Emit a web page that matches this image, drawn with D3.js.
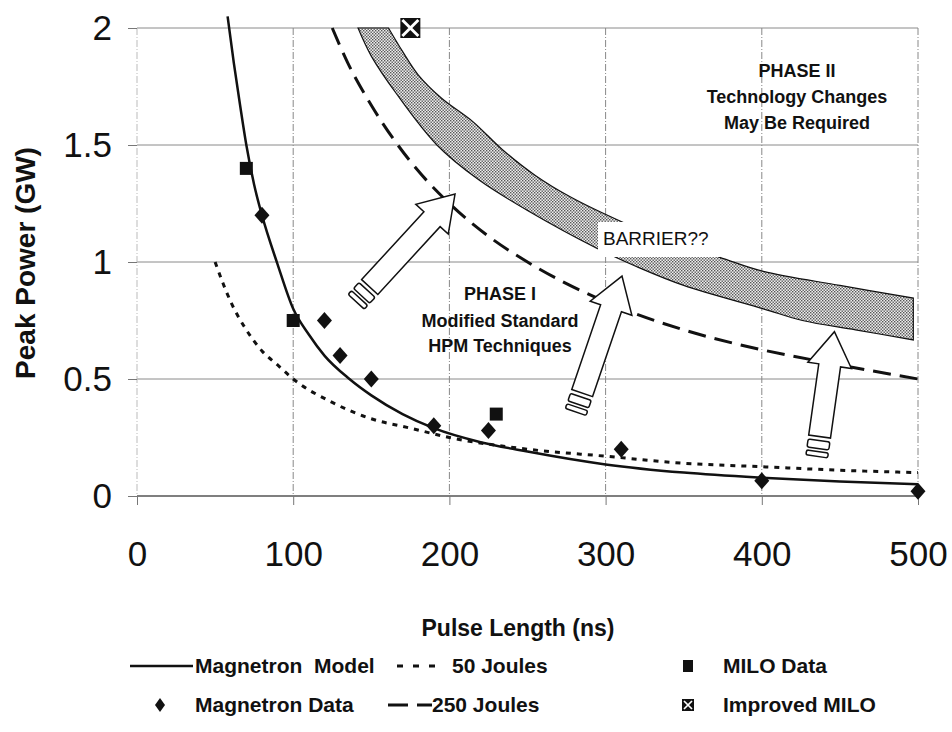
<!DOCTYPE html>
<html>
<head>
<meta charset="utf-8">
<script src="https://cdn.jsdelivr.net/npm/d3@7"></script>
<style>
  body { margin: 0; background: #fff; }
  svg text { font-family: "Liberation Sans", Arial, sans-serif; fill: #111; }
</style>
</head>
<body>
<svg width="952" height="732"></svg>
<script>
// The svg
var svg = d3.select("svg");

// Data (pulse length ns, peak power GW)
var xTicks = [0, 100, 200, 300, 400, 500];
var yTicks = [0, 0.5, 1, 1.5, 2];

var magnetronModel = [[58, 2.05], [62, 1.85], [66, 1.67], [70, 1.5], [75, 1.33], [80, 1.2], [90, 0.99],
  [100, 0.8], [110, 0.69], [120, 0.6], [136, 0.5], [150, 0.43], [170, 0.35], [190, 0.29], [220, 0.23],
  [250, 0.19], [300, 0.135], [350, 0.1], [400, 0.078], [450, 0.062], [500, 0.05]];
var joules50 = [[50, 1.0], [55, 0.91], [60, 0.83], [70, 0.71], [80, 0.62], [90, 0.56], [100, 0.5],
  [125, 0.4], [150, 0.33], [175, 0.29], [200, 0.25], [250, 0.2], [300, 0.17], [350, 0.14],
  [400, 0.125], [450, 0.11], [500, 0.1]];
var joules250 = [[125, 2.0], [135, 1.85], [150, 1.67], [175, 1.43], [200, 1.25], [225, 1.11],
  [250, 1.0], [300, 0.83], [350, 0.71], [400, 0.625], [450, 0.56], [500, 0.5]];
var barrierUpper = [[161, 2.0], [170, 1.9], [180, 1.8], [195, 1.7], [215, 1.6], [234, 1.48], [255, 1.37],
  [277, 1.28], [311, 1.17], [340, 1.09], [373, 1.02], [401, 0.96], [450, 0.9], [497, 0.846]];
var barrierLower = [[141.5, 2.0], [150, 1.88], [166, 1.72], [192, 1.5], [219, 1.35], [250, 1.22],
  [294, 1.06], [320, 0.98], [350, 0.9], [401, 0.8], [426, 0.75], [460, 0.71], [497, 0.667]];
var miloData = [[70, 1.4], [100, 0.75], [230, 0.35]];
var magnetronData = [[80, 1.2], [120, 0.75], [130, 0.6], [150, 0.5], [190, 0.3], [225, 0.28],
  [310, 0.2], [400, 0.065], [500, 0.02]];
var improvedMilo = [[175, 2.0]];
// arrows: [tail x, tail y, tip x, tip y]
var arrows = [[149, 0.893, 203.6, 1.29], [285, 0.44, 310.5, 0.94], [437, 0.254, 446.5, 0.702]];

// Scales
var x = d3.scaleLinear().domain([0, 500]).range([137, 918]);
var y = d3.scaleLinear().domain([0, 2]).range([496, 28]);

// Grid
var grid = svg.append("g");
grid.selectAll("line.h").data(yTicks.filter(function (d) { return d > 0; })).enter().append("line")
  .attr("x1", x(0)).attr("x2", x(500))
  .attr("y1", function (d) { return y(d); }).attr("y2", function (d) { return y(d); })
  .attr("stroke", "#8a8a8a").attr("stroke-width", 1);
grid.selectAll("line.v").data(xTicks).enter().append("line")
  .attr("x1", function (d) { return x(d); }).attr("x2", function (d) { return x(d); })
  .attr("y1", y(2)).attr("y2", y(0))
  .attr("stroke", function (d) { return d == 0 ? "#bbb" : "#888"; })
  .attr("stroke-width", 1)
  .attr("stroke-dasharray", "7,2,1,2");
grid.append("line")
  .attr("x1", x(0)).attr("x2", x(500)).attr("y1", y(0)).attr("y2", y(0))
  .attr("stroke", "#555").attr("stroke-width", 1.5);

// Axes
var yAxis = svg.append("g").attr("transform", "translate(" + x(0) + ",0)")
  .call(d3.axisLeft(y).tickValues(yTicks).tickSize(9).tickPadding(16).tickFormat(d3.format("")));
var xAxis = svg.append("g").attr("transform", "translate(0," + y(0) + ")")
  .call(d3.axisBottom(x).tickValues(xTicks).tickSize(9).tickPadding(36));
[yAxis, xAxis].forEach(function (a) {
  a.select(".domain").remove();
  a.selectAll(".tick line").attr("stroke", "#777");
  a.selectAll(".tick text").attr("font-size", 35).attr("font-family", "Liberation Sans, Arial, sans-serif").attr("fill", "#111");
});

// Barrier band
var defs = svg.append("defs");
var pat = defs.append("pattern").attr("id", "dots").attr("patternUnits", "userSpaceOnUse")
  .attr("width", 3).attr("height", 3);
pat.append("rect").attr("width", 3).attr("height", 3).attr("fill", "#eeeeee");
pat.append("rect").attr("width", 1.4).attr("height", 1.4).attr("fill", "#555");
pat.append("rect").attr("x", 1.5).attr("y", 1.5).attr("width", 1.4).attr("height", 1.4).attr("fill", "#555");

var line = d3.line().x(function (d) { return x(d[0]); }).y(function (d) { return y(d[1]); }).curve(d3.curveMonotoneX);
var edge = d3.line().x(function (d) { return x(d[0]); }).y(function (d) { return y(d[1]); }).curve(d3.curveCatmullRom);
var lowerPath = edge(barrierLower.slice().reverse());
svg.append("path")
  .attr("d", edge(barrierUpper) + "L" + lowerPath.slice(1) + "Z")
  .attr("fill", "url(#dots)").attr("stroke", "#111").attr("stroke-width", 1.2);

// Curves
svg.append("path").datum(joules250).attr("d", line).attr("fill", "none")
  .attr("stroke", "#111").attr("stroke-width", 3).attr("stroke-dasharray", "18,9");
svg.append("path").datum(joules50).attr("d", line).attr("fill", "none")
  .attr("stroke", "#111").attr("stroke-width", 3).attr("stroke-dasharray", "5,6");
svg.append("path").datum(magnetronModel).attr("d", line).attr("fill", "none")
  .attr("stroke", "#111").attr("stroke-width", 2.5);

// BARRIER label with white box
svg.append("rect").attr("x", 598).attr("y", 222).attr("width", 122).attr("height", 35).attr("fill", "#fff");
svg.append("text").attr("x", 603).attr("y", 245).attr("font-size", 19).text("BARRIER??");

// Arrows
function arrowShape(a) {
  var x0 = x(a[0]), y0 = y(a[1]), x1 = x(a[2]), y1 = y(a[3]);
  var len = Math.hypot(x1 - x0, y1 - y0);
  var ang = Math.atan2(y1 - y0, x1 - x0) * 180 / Math.PI;
  var g = svg.append("g").attr("transform", "translate(" + x0 + "," + y0 + ") rotate(" + ang + ")");
  var sw = 11, hw = 22, hl = 34;
  g.append("path")
    .attr("d", "M0," + (-sw) + "L" + (len - hl) + "," + (-sw) + "L" + (len - hl) + "," + (-hw) +
      "L" + len + ",0L" + (len - hl) + "," + hw + "L" + (len - hl) + "," + sw + "L0," + sw + "Z")
    .attr("fill", "#fff").attr("stroke", "#111").attr("stroke-width", 1.5);
  g.append("rect").attr("x", -12).attr("y", -sw).attr("width", 8).attr("height", sw * 2).attr("rx", 2)
    .attr("fill", "#fff").attr("stroke", "#111").attr("stroke-width", 1.5);
  g.append("rect").attr("x", -20).attr("y", -sw).attr("width", 5).attr("height", sw * 2).attr("rx", 2)
    .attr("fill", "#fff").attr("stroke", "#111").attr("stroke-width", 1.5);
}
arrows.forEach(arrowShape);

// Markers
function diamondPath(w, h) {
  return "M0," + (-h) + "L" + w + ",0L0," + h + "L" + (-w) + ",0Z";
}
svg.selectAll("rect.milo").data(miloData).enter().append("rect")
  .attr("x", function (d) { return x(d[0]) - 6.5; }).attr("y", function (d) { return y(d[1]) - 6.5; })
  .attr("width", 13).attr("height", 13).attr("fill", "#111");
svg.selectAll("path.mag").data(magnetronData).enter().append("path")
  .attr("d", diamondPath(7.5, 8.5))
  .attr("transform", function (d) { return "translate(" + x(d[0]) + "," + y(d[1]) + ")"; })
  .attr("fill", "#111");
function improvedIcon(g, s) {
  g.append("rect").attr("x", -s / 2).attr("y", -s / 2).attr("width", s).attr("height", s).attr("fill", "#111");
  g.append("path").attr("d", "M" + (-s / 2 + 2) + "," + (-s / 2 + 2) + "L" + (s / 2 - 2) + "," + (s / 2 - 2) +
      "M" + (s / 2 - 2) + "," + (-s / 2 + 2) + "L" + (-s / 2 + 2) + "," + (s / 2 - 2))
    .attr("stroke", "#fff").attr("stroke-width", s / 7);
}
improvedMilo.forEach(function (d) {
  improvedIcon(svg.append("g").attr("transform", "translate(" + x(d[0]) + "," + y(d[1]) + ")"), 20);
});

// Annotation texts
var phase1 = svg.append("text").attr("font-size", 18).attr("font-weight", "bold").attr("text-anchor", "middle");
[["PHASE I", 300], ["Modified Standard", 327], ["HPM Techniques", 352]].forEach(function (t) {
  phase1.append("tspan").attr("x", 500).attr("y", t[1]).text(t[0]);
});
var phase2 = svg.append("text").attr("font-size", 18).attr("font-weight", "bold").attr("text-anchor", "middle");
[["PHASE II", 77], ["Technology Changes", 103], ["May Be Required", 129]].forEach(function (t) {
  phase2.append("tspan").attr("x", 797).attr("y", t[1]).text(t[0]);
});

// Axis titles
svg.append("text").attr("transform", "translate(35,263) rotate(-90)").attr("text-anchor", "middle")
  .attr("font-size", 28).attr("font-weight", "bold").text("Peak Power (GW)");
svg.append("text").attr("x", 518).attr("y", 636).attr("text-anchor", "middle")
  .attr("font-size", 23).attr("font-weight", "bold").text("Pulse Length (ns)");

// Legend
var lg = svg.append("g").attr("font-size", 21).attr("font-weight", "bold");
var r1 = 673, r2 = 712;
lg.append("line").attr("x1", 130).attr("x2", 193).attr("y1", r1 - 7).attr("y2", r1 - 7).attr("stroke", "#111").attr("stroke-width", 2.5);
lg.append("text").attr("x", 195).attr("y", r1).text("Magnetron\u00a0\u00a0Model");
lg.append("line").attr("x1", 397).attr("x2", 440).attr("y1", r1 - 7).attr("y2", r1 - 7).attr("stroke", "#111").attr("stroke-width", 3).attr("stroke-dasharray", "6,10");
lg.append("text").attr("x", 452).attr("y", r1).text("50 Joules");
lg.append("rect").attr("x", 683).attr("y", r1 - 13).attr("width", 10).attr("height", 12).attr("fill", "#111");
lg.append("text").attr("x", 723).attr("y", r1).text("MILO Data");
lg.append("path").attr("d", diamondPath(5, 7)).attr("transform", "translate(160," + (r2 - 7) + ")").attr("fill", "#111");
lg.append("text").attr("x", 195).attr("y", r2).text("Magnetron Data");
lg.append("line").attr("x1", 388).attr("x2", 432).attr("y1", r2 - 7).attr("y2", r2 - 7).attr("stroke", "#111").attr("stroke-width", 3).attr("stroke-dasharray", "20,9");
lg.append("text").attr("x", 432).attr("y", r2).text("250 Joules");
improvedIcon(lg.append("g").attr("transform", "translate(688," + (r2 - 7) + ")"), 12);
lg.append("text").attr("x", 723).attr("y", r2).text("Improved MILO");
</script>
</body>
</html>
